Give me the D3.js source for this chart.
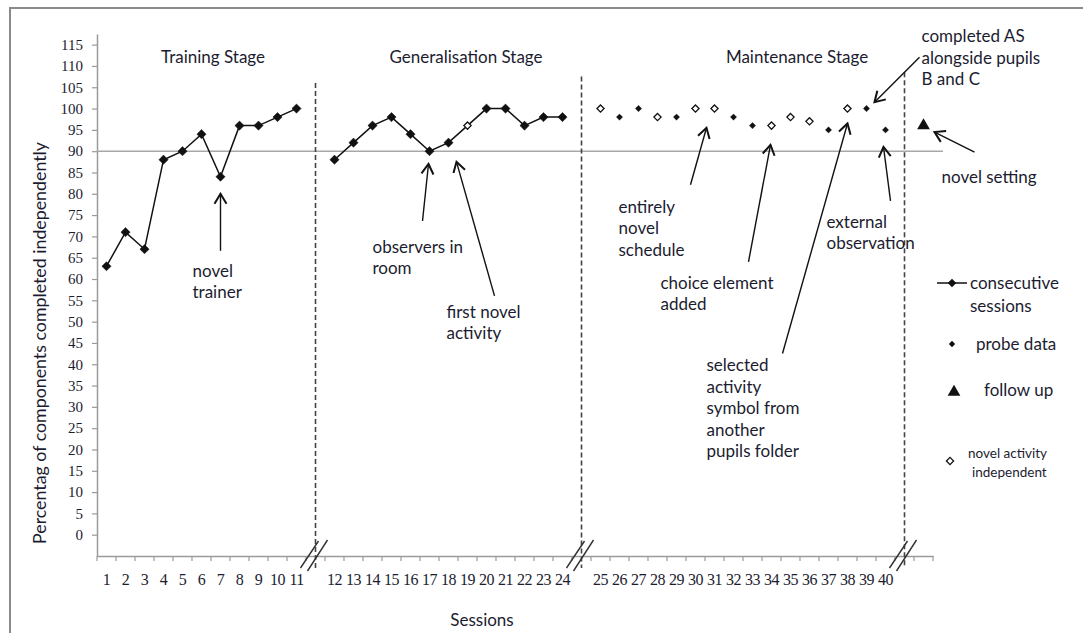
<!DOCTYPE html>
<html>
<head>
<meta charset="utf-8">
<script src="https://cdn.jsdelivr.net/npm/d3@7"></script>
<style>
body { margin: 0; background: #fff; }
text { font-family: Lato, "Open Sans", sans-serif; fill: #1c1c30; }
.num text, text.num { font-family: "Liberation Serif", "DejaVu Serif", serif; }
</style>
</head>
<body>
<svg id="chart" width="1083" height="633"></svg>
<script>
// percentage of components completed independently, per session
var trainingSessions = [1, 2, 3, 4, 5, 6, 7, 8, 9, 10, 11];
var trainingValues = [63, 71, 67, 88, 90, 94, 84, 96, 96, 98, 100];

var generalSessions = [12, 13, 14, 15, 16, 17, 18, 19, 20, 21, 22, 23, 24];
var generalValues = [88, 92, 96, 98, 94, 90, 92, 96, 100, 100, 96, 98, 98];

var maintenanceSessions = [25, 26, 27, 28, 29, 30, 31, 32, 33, 34, 35, 36, 37, 38, 39, 40];
var maintenanceValues = [100, 98, 100, 98, 98, 100, 100, 98, 96, 96, 98, 97, 95, 100, 100, 95];

// sessions drawn with the open diamond
var novelActivitySessions = [19, 25, 28, 30, 31, 34, 35, 36, 38];

var followUpValue = 96;
var criterion = 90;

var yTickValues = [0, 5, 10, 15, 20, 25, 30, 35, 40, 45, 50, 55, 60, 65, 70, 75, 80, 85, 90, 95, 100, 105, 110, 115];
var stageNames = ["Training Stage", "Generalisation Stage", "Maintenance Stage"];

var legendLabels = [["consecutive", "sessions"], ["probe data"], ["follow up"], ["novel activity", "independent"]];

// annotations: tip anchored to a session / value, tail and text offset from the tip
var annotations = [
    { s: 7, v: 80, dx: 0, tail: [0, 57], text: [-28, 77], lines: ["novel", "trainer"] },
    { s: 17, v: 87, dx: -1, tail: [-6, 57], text: [-56, 83], lines: ["observers in", "room"] },
    { s: 18, v: 87.5, dx: 8, tail: [38, 134], text: [-10, 150], lines: ["first novel", "activity"] },
    { s: 30, v: 95.5, dx: 11, tail: [-16, 57], text: [-88, 79], lines: ["entirely", "novel", "schedule"] },
    { s: 34, v: 91.5, dx: -1, tail: [-22, 117], text: [-110, 138], lines: ["choice element", "added"] },
    { s: 38, v: 96.5, dx: 0, tail: [-65, 230], text: [-141, 242], lines: ["selected", "activity", "symbol from", "another", "pupils folder"] },
    { s: 40, v: 91, dx: -2, tail: [7, 54], text: [-57, 75], lines: ["external", "observation"] },
    { s: 39, v: 101.5, dx: 8, tail: [45, -45], text: [47, -66], lines: ["completed AS", "alongside pupils", "B and C"] },
    { s: "FU", v: 94.5, dx: 11, tail: [40, 20], text: [7, 45], lines: ["novel setting"] }
];

var svg = d3.select("#chart");

// frame of the original figure
svg.append("path")
    .attr("d", "M10,640 L10,8 L1090,8")
    .attr("fill", "none")
    .attr("stroke", "#8a8a8a")
    .attr("stroke-width", 2);

// category slots, with an empty slot at each stage break
var slots = [].concat(trainingSessions, ["b1"], generalSessions, ["b2"], maintenanceSessions, ["b3", "FU"]);

var x = d3.scaleBand()
    .domain(slots)
    .range([97, 933]);
var bw = x.bandwidth();
function cx(s) { return x(s) + bw / 2; }

var y = d3.scaleLinear()
    .domain([-5, 117.5])
    .range([556, 34]);

var axisColor = "#9a9a9a";

// y axis
var yAxis = svg.append("g")
    .attr("class", "num")
    .attr("transform", "translate(97,0)")
    .call(d3.axisLeft(y).tickValues(yTickValues).tickSize(5).tickSizeOuter(0).tickPadding(9));
yAxis.select(".domain").attr("stroke", axisColor).attr("stroke-width", 1.5);
yAxis.selectAll(".tick line").attr("stroke", axisColor).attr("stroke-width", 1.2);
yAxis.selectAll(".tick text").attr("font-size", 15).style("fill", "#1c1c30");

// x axis: labels centred in each slot, ticks on slot edges
var xAxis = svg.append("g")
    .attr("class", "num")
    .attr("transform", "translate(0," + y(-5) + ")")
    .call(d3.axisBottom(x).tickSize(0).tickPadding(18).tickFormat(function (d) { return typeof d === "number" ? d : ""; }));
xAxis.select(".domain").attr("stroke", axisColor).attr("stroke-width", 1.5);
xAxis.selectAll(".tick text").attr("font-size", 16).attr("letter-spacing", -0.6).style("fill", "#1c1c30");

xAxis.selectAll(".edge")
    .data(slots.concat(["end"]))
    .enter().append("line")
    .attr("x1", function (d) { return d === "end" ? x.range()[1] : x(d); })
    .attr("x2", function (d) { return d === "end" ? x.range()[1] : x(d); })
    .attr("y1", 0)
    .attr("y2", 5)
    .attr("stroke", axisColor)
    .attr("stroke-width", 1.2);

// criterion line
svg.append("line")
    .attr("x1", 97).attr("x2", 943)
    .attr("y1", y(criterion)).attr("y2", y(criterion))
    .attr("stroke", "#a8a8a8")
    .attr("stroke-width", 1.6);

// stage change lines and axis breaks
var breaks = ["b1", "b2", "b3"];
var breakTops = [106, 107.5, 108.5];
breaks.forEach(function (b, i) {
    svg.append("line")
        .attr("x1", cx(b)).attr("x2", cx(b))
        .attr("y1", y(breakTops[i])).attr("y2", y(-5) + 12)
        .attr("stroke", "#444")
        .attr("stroke-width", 1.6)
        .attr("stroke-dasharray", "5,3");
    var bx = cx(b), by = y(-5);
    svg.append("path")
        .attr("d", "M" + (bx - 15) + "," + (by + 12) + "L" + (bx + 3) + "," + (by - 15) +
            "M" + (bx - 8) + "," + (by + 15) + "L" + (bx + 12) + "," + (by - 16))
        .attr("stroke", "#333")
        .attr("stroke-width", 1.4)
        .attr("fill", "none");
});

// stage titles
var stageTitleX = [213, 466, 797];
stageNames.forEach(function (n, i) {
    svg.append("text")
        .attr("x", stageTitleX[i])
        .attr("y", y(112) + 6)
        .attr("text-anchor", "middle")
        .attr("font-size", 17)
        .text(n);
});

// axis titles
svg.append("text")
    .attr("transform", "translate(46,343) rotate(-90)")
    .attr("text-anchor", "middle")
    .attr("font-size", 17.8)
    .text("Percentag of components completed independently");

svg.append("text")
    .attr("x", 482)
    .attr("y", 626)
    .attr("text-anchor", "middle")
    .attr("font-size", 17)
    .text("Sessions");

function diamond(r) {
    return "M0," + (-r) + "L" + r + ",0L0," + r + "L" + (-r) + ",0Z";
}
function isNovel(s) { return novelActivitySessions.indexOf(s) >= 0; }

var line = d3.line()
    .x(function (d) { return cx(d.s); })
    .y(function (d) { return y(d.v); });

function pairs(ss, vs) {
    return ss.map(function (s, i) { return { s: s, v: vs[i] }; });
}

var training = pairs(trainingSessions, trainingValues);
var general = pairs(generalSessions, generalValues);
var maintenance = pairs(maintenanceSessions, maintenanceValues);

[training, general].forEach(function (series) {
    svg.append("path")
        .datum(series)
        .attr("fill", "none")
        .attr("stroke", "#111")
        .attr("stroke-width", 1.5)
        .attr("d", line);

    svg.selectAll(null)
        .data(series)
        .enter().append("path")
        .attr("transform", function (d) { return "translate(" + cx(d.s) + "," + y(d.v) + ")"; })
        .attr("d", function (d) { return isNovel(d.s) ? diamond(3.6) : diamond(4.6); })
        .attr("fill", function (d) { return isNovel(d.s) ? "#fff" : "#111"; })
        .attr("stroke", "#111")
        .attr("stroke-width", function (d) { return isNovel(d.s) ? 1.3 : 0.5; });
});

// maintenance probes, no connecting line
svg.selectAll(null)
    .data(maintenance)
    .enter().append("path")
    .attr("transform", function (d) { return "translate(" + cx(d.s) + "," + y(d.v) + ")"; })
    .attr("d", function (d) { return isNovel(d.s) ? diamond(3.6) : diamond(3.2); })
    .attr("fill", function (d) { return isNovel(d.s) ? "#fff" : "#111"; })
    .attr("stroke", "#111")
    .attr("stroke-width", function (d) { return isNovel(d.s) ? 1.3 : 0.3; });

// follow up
var triangle = d3.symbol().type(d3.symbolTriangle).size(70);
svg.append("path")
    .attr("transform", "translate(" + cx("FU") + "," + y(followUpValue) + ")")
    .attr("d", triangle())
    .attr("fill", "#111");

// arrows
svg.append("defs").append("marker")
    .attr("id", "head")
    .attr("viewBox", "-12 -8 14 16")
    .attr("refX", 0).attr("refY", 0)
    .attr("markerWidth", 14).attr("markerHeight", 16)
    .attr("markerUnits", "userSpaceOnUse")
    .attr("orient", "auto")
    .append("path")
    .attr("d", "M-10,-6L0,0L-10,6")
    .attr("fill", "none")
    .attr("stroke", "#111")
    .attr("stroke-width", 2);

annotations.forEach(function (a) {
    var tx = cx(a.s) + a.dx, ty = y(a.v);
    svg.append("line")
        .attr("x1", tx + a.tail[0]).attr("y1", ty + a.tail[1])
        .attr("x2", tx).attr("y2", ty)
        .attr("stroke", "#111")
        .attr("stroke-width", 1.4)
        .attr("marker-end", "url(#head)");
    var t = svg.append("text")
        .attr("font-size", 17);
    a.lines.forEach(function (l, i) {
        t.append("tspan")
            .attr("x", tx + a.text[0])
            .attr("y", ty + a.text[1] + 6 + i * 21.5)
            .text(l);
    });
});

// legend
var lg = svg.append("g");
lg.append("line")
    .attr("x1", 937).attr("x2", 967)
    .attr("y1", 283).attr("y2", 283)
    .attr("stroke", "#111").attr("stroke-width", 1.5);
lg.append("path").attr("transform", "translate(952,283)").attr("d", diamond(4.3)).attr("fill", "#111");
lg.append("path").attr("transform", "translate(952,344)").attr("d", diamond(3.2)).attr("fill", "#111");
lg.append("path").attr("transform", "translate(954,392)").attr("d", triangle()).attr("fill", "#111");
lg.append("path").attr("transform", "translate(950,461)").attr("d", diamond(3.6))
    .attr("fill", "#fff").attr("stroke", "#111").attr("stroke-width", 1.3);

var legendText = [
    { x: 970, y: 289, size: 17, lh: 23 },
    { x: 976, y: 350, size: 17, lh: 0 },
    { x: 984, y: 396, size: 17, lh: 0 },
    { x: 968, y: 458, size: 13.5, lh: 19 }
];
legendLabels.forEach(function (ls, i) {
    var p = legendText[i];
    var t = lg.append("text").attr("font-size", p.size);
    ls.forEach(function (l, j) {
        t.append("tspan")
            .attr("x", p.x + (i === 3 ? j * 4 : 0))
            .attr("y", p.y + j * p.lh)
            .text(l);
    });
});
</script>
</body>
</html>
